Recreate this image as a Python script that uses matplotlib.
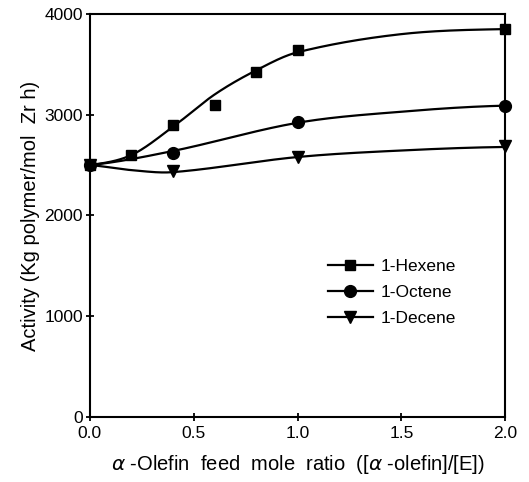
import numpy as np
import matplotlib
matplotlib.use("Agg")
import matplotlib.pyplot as plt

plt.rcParams['font.family'] = ['Liberation Sans', 'DejaVu Sans']

# measured data points
x_hex = [0.0, 0.2, 0.4, 0.6, 0.8, 1.0, 2.0]
y_hex = [2500, 2600, 2900, 3100, 3420, 3640, 3850]
x_oct = [0.0, 0.4, 1.0, 2.0]
y_oct = [2500, 2620, 2930, 3090]
x_dec = [0.0, 0.4, 1.0, 2.0]
y_dec = [2500, 2440, 2580, 2690]

# fitted curve knots
cx_hex = [0.0, 0.2, 0.4, 0.6, 0.8, 1.0, 1.5, 2.0]
cy_hex = [2500, 2600, 2880, 3200, 3440, 3620, 3800, 3850]
cx_oct = [0.0, 0.4, 1.0, 1.5, 2.0]
cy_oct = [2500, 2640, 2920, 3030, 3090]
cx_dec = [0.0, 0.2, 0.4, 1.0, 1.5, 2.0]
cy_dec = [2500, 2450, 2430, 2580, 2645, 2680]


def smooth(xk, yk, xs):
    xk = np.asarray(xk, float); yk = np.asarray(yk, float)
    n = len(xk); h = np.diff(xk); d = np.diff(yk) / h
    m = np.zeros(n)
    for i in range(1, n - 1):
        m[i] = (yk[i + 1] - yk[i - 1]) / (xk[i + 1] - xk[i - 1])
    m[0] = d[0] * 0.6
    m[-1] = d[-1] * 0.4
    ys = np.empty_like(xs)
    for j, xv in enumerate(xs):
        i = min(np.searchsorted(xk, xv, side='right') - 1, n - 2)
        t = (xv - xk[i]) / h[i]
        h00 = 2*t**3 - 3*t**2 + 1; h10 = t**3 - 2*t**2 + t
        h01 = -2*t**3 + 3*t**2; h11 = t**3 - t**2
        ys[j] = h00*yk[i] + h10*h[i]*m[i] + h01*yk[i+1] + h11*h[i]*m[i+1]
    return ys


xs = np.linspace(0, 2, 400)

fig = plt.figure(figsize=(5.29, 4.82), dpi=100)
ax = fig.add_axes([0.170, 0.135, 0.785, 0.836])

lw = 1.6
for cx, cy, px, py, mk, ms, lab in [
        (cx_hex, cy_hex, x_hex, y_hex, 's', 7.5, '1-Hexene'),
        (cx_oct, cy_oct, x_oct, y_oct, 'o', 8.5, '1-Octene'),
        (cx_dec, cy_dec, x_dec, y_dec, 'v', 8.0, '1-Decene')]:
    ax.plot(xs, smooth(cx, cy, xs), color='black', lw=lw)
    ax.plot(px, py, linestyle='none', marker=mk, ms=ms, color='black', clip_on=False)
    ax.plot([], [], color='black', lw=lw, marker=mk, ms=ms, label=lab)

ax.set_xlim(0, 2)
ax.set_ylim(0, 4000)
ax.set_xticks([0.0, 0.5, 1.0, 1.5, 2.0])
ax.set_xticklabels(['0.0', '0.5', '1.0', '1.5', '2.0'])
ax.set_yticks([0, 1000, 2000, 3000, 4000])
ax.set_yticklabels(['0', '1000', '2000', '3000', '4000'])
ax.tick_params(axis='both', direction='inout', length=6, width=1.3, labelsize=12.5)
ax.tick_params(axis='y', pad=2)
for s in ax.spines.values():
    s.set_linewidth(1.5)

ax.set_xlabel(r'$\alpha$ -Olefin  feed  mole  ratio  ([$\alpha$ -olefin]/[E])', fontsize=14.5, labelpad=9)
ax.set_ylabel('Activity (Kg polymer/mol  Zr h)', fontsize=14.5, labelpad=3)

ax.legend(loc='upper left', bbox_to_anchor=(0.535, 0.43), frameon=False, fontsize=12.5,
          handlelength=2.6, handletextpad=0.45, labelspacing=0.62)

fig.savefig('out.png', dpi=100)
